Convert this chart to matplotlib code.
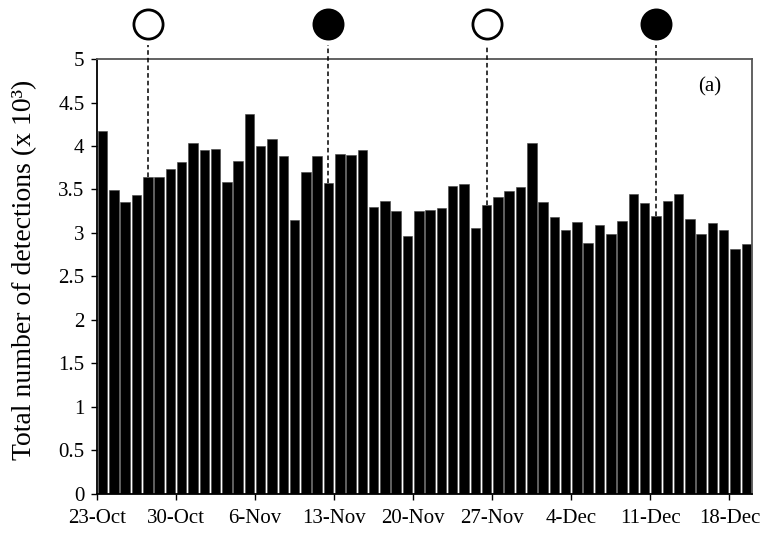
# Daily detections bar chart with moon phase markers
import numpy as np
import matplotlib
matplotlib.use('Agg')
import matplotlib.pyplot as plt

# daily totals (x 10^3), 23-Oct .. 19-Dec
detections = [4.17, 3.49, 3.36, 3.44, 3.64, 3.64, 3.74, 3.82, 4.03, 3.95,
              3.97, 3.59, 3.83, 4.37, 4.00, 4.08, 3.88, 3.15, 3.70, 3.88,
              3.58, 3.91, 3.90, 3.95, 3.30, 3.37, 3.25, 2.97, 3.25, 3.27,
              3.29, 3.54, 3.56, 3.06, 3.32, 3.41, 3.48, 3.53, 4.03, 3.36,
              3.18, 3.03, 3.13, 2.88, 3.09, 2.99, 3.14, 3.45, 3.35, 3.20,
              3.37, 3.45, 3.16, 2.99, 3.11, 3.03, 2.82, 2.87]
week_labels = ['23-Oct', '30-Oct', '6-Nov', '13-Nov', '20-Nov',
               '27-Nov', '4-Dec', '11-Dec', '18-Dec']
# moon phases: day index and whether filled (new) or open (full)
moon_days = [4, 20, 34, 49]
moon_filled = [False, True, False, True]

plt.rcParams['font.family'] = ['Liberation Serif', 'DejaVu Serif']

fig = plt.figure(figsize=(7.77, 5.33), dpi=100)
ax = fig.add_axes([0.1248, 0.0732, 0.8430, 0.8161])

x = np.arange(len(detections)) + 0.5
ax.bar(x, detections, width=0.84, color='black', edgecolor='#444444', linewidth=0.4)

ax.set_xlim(0, len(detections))
ax.set_ylim(0, 5)
ax.set_xticks(np.arange(0, 7 * len(week_labels), 7))
ax.set_xticklabels(week_labels, fontsize=15)
ax.set_yticks(np.arange(0, 5.01, 0.5))
ax.set_yticklabels(['0', '0.5', '1', '1.5', '2', '2.5', '3', '3.5', '4', '4.5', '5'], fontsize=15)
ax.tick_params(direction='out', length=4, width=1, color='black')
ax.tick_params(axis='x', pad=7)
ax.tick_params(axis='y', pad=5)

for side in ['left', 'bottom']:
    ax.spines[side].set_color('black')
    ax.spines[side].set_linewidth(1.3)
for side in ['top', 'right']:
    ax.spines[side].set_color('#555555')
    ax.spines[side].set_linewidth(1.3)

ax.set_ylabel('Total number of detections (x 10³)', fontsize=20)
ax.yaxis.set_label_coords(-0.092, 0.515)

for d, filled in zip(moon_days, moon_filled):
    xc = d + 0.5
    ax.plot([xc, xc], [detections[d], 5.16], color='black', lw=1.1,
            linestyle=(0, (3, 2)), clip_on=False, zorder=3)
    ax.plot(xc, 5.40, 'o', ms=21, mew=2, mec='black',
            mfc='black' if filled else 'white', clip_on=False, zorder=4)

ax.text(0.936, 0.935, '(a)', transform=ax.transAxes,
        fontsize=15, ha='center', va='center')

fig.savefig('out.png', dpi=100)
